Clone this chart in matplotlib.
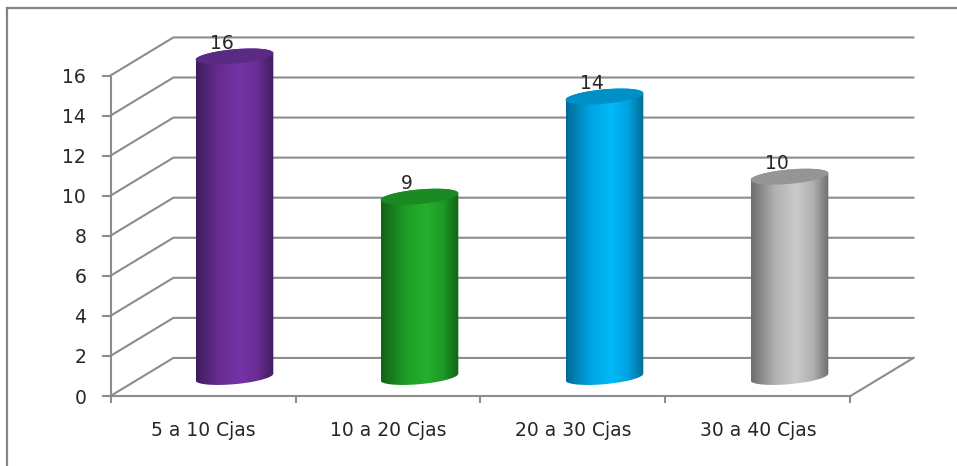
import numpy as np
import matplotlib
matplotlib.use("Agg")
import matplotlib.pyplot as plt
from matplotlib.colors import LinearSegmentedColormap
from matplotlib.lines import Line2D
from matplotlib.patches import Polygon

# Data
categories = ["5 a 10 Cjas", "10 a 20 Cjas", "20 a 30 Cjas", "30 a 40 Cjas"]
values = [16, 9, 14, 10]
y_ticks = [0, 2, 4, 6, 8, 10, 12, 14, 16]

# Shaft colours: edge, mid, centre, plus the lid colour
shades = [
    ("#3f1d5c", "#682c94", "#7533a6", "#5a2a85"),
    ("#126318", "#1e9a26", "#25b02e", "#1a8a22"),
    ("#006a96", "#00a2e0", "#00baf8", "#0090c8"),
    ("#6e6e6e", "#b0b0b0", "#cbcbcb", "#959595"),
]

W, H = 957, 466
LINE = "#8c8c8c"
TEXT = "#262626"

# 3D look, in data units
DEPTH_X = 0.34
DEPTH_Y = 1.9
HALF_W = 0.21
TILT = 0.17
LID_B = 0.36

plt.rcParams["font.family"] = ["DejaVu Sans"]

fig = plt.figure(figsize=(W / 100, H / 100), dpi=100)
ax = fig.add_axes([110.5 / W, 1 - 396 / H, 740 / W, 320.5 / H])
ax.patch.set_visible(False)
ax.set_xlim(0, 4)
ax.set_ylim(0, 16)

# Outer frame, only left and top are visible
fig.add_artist(Line2D([6.5 / W, 6.5 / W], [0, 1 - 7.5 / H], color="#858585", lw=1.6))
fig.add_artist(Line2D([6.5 / W, 1], [1 - 7.5 / H, 1 - 7.5 / H], color="#858585", lw=1.6))

# Back wall gridlines and the diagonals running to the left wall
for y in y_ticks:
    ax.plot([0, DEPTH_X, 4 + DEPTH_X], [y, y + DEPTH_Y, y + DEPTH_Y],
            color=LINE, lw=1.5, clip_on=False, zorder=1, solid_joinstyle="miter")

# Right side of the floor
ax.plot([4, 4 + DEPTH_X], [0, DEPTH_Y], color=LINE, lw=1.5, clip_on=False, zorder=1)

# Cylinders
t_low = np.linspace(np.pi, 2 * np.pi, 80)
t_up = np.linspace(0, np.pi, 80)
t_all = np.linspace(0, 2 * np.pi, 160)


def arc(cx, cy, t):
    return np.column_stack([cx + HALF_W * np.cos(t),
                            cy + TILT * np.cos(t) + LID_B * np.sin(t)])


for i, value in enumerate(values):
    cx = i + 0.5 + DEPTH_X / 2
    base = DEPTH_Y / 2
    top = value + DEPTH_Y / 2
    edge, mid, centre, lid = shades[i]

    body = Polygon(np.vstack([arc(cx, base, t_low), arc(cx, top, t_up)]),
                   closed=True, transform=ax.transData, fc="none", ec="none",
                   clip_on=False)
    ax.add_patch(body)
    cmap = LinearSegmentedColormap.from_list(
        "shaft", [(0, edge), (0.3, mid), (0.58, centre), (0.8, mid), (1, edge)])
    im = ax.imshow(np.linspace(0, 1, 200).reshape(1, -1), cmap=cmap, aspect="auto",
                   interpolation="bilinear",
                   extent=[cx - HALF_W, cx + HALF_W, base - 1, top + 1], zorder=3)
    # the shaft pokes out above the axes box, so only the body shape clips it
    im.set_clip_box(fig.bbox)
    im.set_clip_path(body)

    ax.add_patch(Polygon(arc(cx, top, t_all), closed=True, fc=lid, ec="none",
                         zorder=4, clip_on=False))
    ax.text(i + 0.5 + 0.1, value + 1.62, str(value), ha="center", va="center",
            fontsize=13.5, color=TEXT, zorder=2, clip_on=False)

# imshow resets the limits
ax.set_xlim(0, 4)
ax.set_ylim(0, 16)

# Axes
for side in ("top", "right"):
    ax.spines[side].set_visible(False)
for side in ("left", "bottom"):
    ax.spines[side].set_color(LINE)
    ax.spines[side].set_linewidth(1.5)

ax.set_yticks(y_ticks)
ax.set_xticks(range(5))
ax.set_xticklabels([])
ax.set_xticks(np.arange(len(categories)) + 0.5, categories, minor=True)
ax.tick_params(axis="y", length=6.5, width=1.5, color=LINE, labelsize=13.5,
               labelcolor=TEXT, pad=11)
ax.tick_params(axis="x", which="major", length=5, width=1.5, color=LINE)
ax.tick_params(axis="x", which="minor", length=0, labelsize=13.5, labelcolor=TEXT, pad=18)

fig.savefig("out.png", dpi=100)
